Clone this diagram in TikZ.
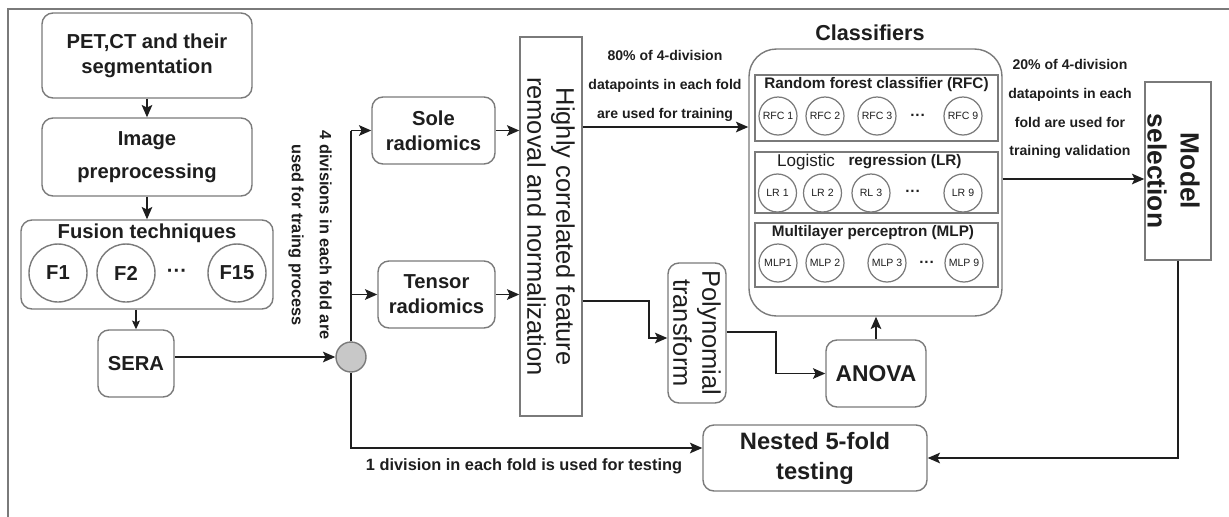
\documentclass[tikz,border=0pt]{standalone}
\usepackage{fontspec}
\setmainfont{Liberation Sans}
\usetikzlibrary{arrows.meta}

\definecolor{ink}{HTML}{1E1E1E}
\definecolor{edge}{HTML}{7A7A7A}
\definecolor{knob}{HTML}{C8C8C8}

\newcommand\labfnt{\bfseries\fontsize{11.5}{14.2}\selectfont}
\newcommand\tallfnt{\fontsize{14.5}{16.6}\selectfont}
\newcommand\headfnt{\bfseries\fontsize{12.3}{14}\selectfont}
\newcommand\rowfnt{\bfseries\fontsize{8.7}{10}\selectfont}
\newcommand\notefnt{\bfseries\fontsize{8}{16.4}\selectfont}
\newcommand\sidefnt{\bfseries\fontsize{9.3}{15.9}\selectfont}
\newcommand\unitfnt{\fontsize{6}{7}\selectfont}

\tikzset{
  rbox/.style={draw=edge, line width=0.8pt, rounded corners=0.22cm, align=center, text=ink, inner sep=0pt},
  sbox/.style={draw=edge, line width=0.8pt, inner sep=0pt},
  flow/.style={draw=ink, line width=1.1pt, -{Stealth[length=7pt,width=6pt,inset=1.5pt]}},
  fball/.style={circle, draw=edge, line width=0.8pt, minimum size=1.16cm, inner sep=0pt, text=ink, font=\labfnt},
  unit/.style={circle, draw=edge, line width=0.7pt, minimum size=0.76cm, inner sep=0pt, text=ink, font=\unitfnt},
  note/.style={text=ink, align=center, inner sep=0pt},
}

\begin{document}
\begin{tikzpicture}
    \useasboundingbox (0,0) rectangle (24.58,-10.32);
    % outer frame
    \draw[edge, line width=0.8pt] (0.16,-10.5) -- (0.16,-0.18) -- (24.8,-0.18);

    % input side
    \node[rbox, minimum width=4.2cm, minimum height=1.7cm, font=\labfnt] (pet) at (2.94,-1.11) {PET,CT and their\\segmentation};
    \node[rbox, minimum width=4.2cm, minimum height=1.56cm, font=\bfseries\fontsize{11.5}{18.7}\selectfont] (prep) at (2.94,-3.14) {Image\\preprocessing};
    \node[rbox, minimum width=5.04cm, minimum height=1.78cm] (fusion) at (2.94,-5.29) {};
    \node[note, font=\labfnt] (fusiontitle) at (2.94,-4.66) {Fusion techniques};
    \node[fball] (f1) at (1.16,-5.46) {F1};
    \node[fball] (f2) at (2.52,-5.46) {F2};
    \node[note, font=\labfnt] (fdots) at (3.54,-5.46) {···};
    \node[fball] (f15) at (4.74,-5.46) {F15};
    \node[rbox, minimum width=1.52cm, minimum height=1.34cm, font=\labfnt] (sera) at (2.72,-7.27) {SERA};

    \draw[flow] (pet) -- (prep);
    \draw[flow] (prep) -- (fusion);
    \draw[draw=ink, line width=0.6pt, -{Stealth[length=5pt,width=4.5pt,inset=1pt]}] (fusion.south -| sera.north) -- (sera.north);

    % split point
    \node[circle, draw=edge, fill=knob, line width=0.8pt, minimum size=0.6cm, inner sep=0pt] (split) at (7.02,-7.14) {};
    \draw[flow] (sera.east |- split) -- (split.west);
    \node[note, font=\sidefnt, rotate=-90] (traintag) at (6.2,-4.7) {4 divisions in each fold are\\used for traing process};

    % radiomics
    \node[rbox, minimum width=2.46cm, minimum height=1.34cm, font=\labfnt] (sole) at (8.67,-2.61) {Sole\\radiomics};
    \node[rbox, minimum width=2.34cm, minimum height=1.34cm, font=\labfnt] (tensor) at (8.73,-5.89) {Tensor\\radiomics};
    \draw[draw=ink, line width=1.1pt] (split.north) -- (split |- sole);
    \draw[flow] (split |- sole) -- (sole.west);
    \draw[flow] (split |- tensor) -- (tensor.west);

    % feature removal
    \node[sbox, minimum width=1.24cm, minimum height=7.58cm] (highly) at (11.02,-4.53) {};
    \node[note, font=\tallfnt, rotate=-90] (highlytext) at (highly) {Highly correlated feature\\removal and normalization};
    \draw[flow] (sole.east) -- (sole.east -| highly.west);
    \draw[flow] (tensor.east) -- (tensor.east -| highly.west);

    % classifiers
    \node[rbox, rounded corners=0.55cm, minimum width=5.06cm, minimum height=5.34cm] (cls) at (17.51,-3.65) {};
    \node[note, font=\headfnt] (clstitle) at (17.4,-0.66) {Classifiers};

    \node[sbox, minimum width=4.86cm, minimum height=1.32cm] (rfcrow) at (17.53,-2.16) {};
    \node[note, font=\rowfnt] (rfctitle) at (17.53,-1.70) {Random forest classifier (RFC)};
    \node[unit] (rfc1) at (15.56,-2.32) {RFC 1};
    \node[unit] (rfc2) at (16.50,-2.32) {RFC 2};
    \node[unit] (rfc3) at (17.54,-2.32) {RFC 3};
    \node[note, font=\rowfnt] (rfcdots) at (18.36,-2.34) {···};
    \node[unit] (rfc9) at (19.26,-2.32) {RFC 9};

    \node[sbox, minimum width=4.86cm, minimum height=1.22cm] (lrrow) at (17.53,-3.65) {};
    \node[note, font=\fontsize{9.7}{11}\selectfont] (lrtitlea) at (16.12,-3.24) {Logistic};
    \node[note, font=\rowfnt] (lrtitleb) at (18.10,-3.24) {regression (LR)};
    \node[unit] (lr1) at (15.55,-3.86) {LR 1};
    \node[unit] (lr2) at (16.45,-3.86) {LR 2};
    \node[unit] (lr3) at (17.42,-3.86) {RL 3};
    \node[note, font=\rowfnt] (lrdots) at (18.26,-3.86) {···};
    \node[unit] (lr9) at (19.26,-3.86) {LR 9};

    \node[sbox, minimum width=4.86cm, minimum height=1.28cm] (mlprow) at (17.53,-5.10) {};
    \node[note, font=\rowfnt] (mlptitle) at (17.46,-4.66) {Multilayer perceptron (MLP)};
    \node[unit] (mlp1) at (15.56,-5.26) {MLP1};
    \node[unit] (mlp2) at (16.50,-5.26) {MLP 2};
    \node[unit] (mlp3) at (17.74,-5.26) {MLP 3};
    \node[note, font=\rowfnt] (mlpdots) at (18.54,-5.28) {···};
    \node[unit] (mlp9) at (19.28,-5.26) {MLP 9};

    % training split
    \node[note, font=\notefnt] (traintext) at (13.3,-1.72) {80\% of 4-division\\datapoints in each fold\\are used for training};
    \draw[flow] (highly.east |- 0,-2.54) -- (cls.west |- 0,-2.54);

    % polynomial and anova
    \node[rbox, minimum width=1.16cm, minimum height=2.8cm] (poly) at (13.94,-6.66) {};
    \node[note, font=\tallfnt, rotate=-90] (polytext) at (poly) {Polynomial\\transform};
    \node[rbox, minimum width=2.0cm, minimum height=1.34cm, font=\bfseries\fontsize{13}{15}\selectfont] (anova) at (17.52,-7.47) {ANOVA};
    \draw[flow] (highly.east |- 0,-6.02) -- (12.98,-6.02) |- (poly.west |- 0,-6.76);
    \draw[flow] (poly.east |- 0,-6.64) -- (15.52,-6.64) |- (anova.west);
    \draw[flow] (anova.north) -- (anova.north |- cls.south);

    % model selection
    \node[sbox, minimum width=1.32cm, minimum height=3.56cm] (modelsel) at (23.56,-3.42) {};
    \node[note, font=\bfseries\fontsize{15}{18.7}\selectfont, rotate=-90] (modeltext) at (23.47,-3.42) {Model\\selection};
    \node[note, font=\notefnt] (validtext) at (21.4,-2.18) {20\% of 4-division\\datapoints in each\\fold are used for\\training validation};
    \draw[flow] (cls.east |- 0,-3.58) -- (modelsel.west |- 0,-3.58);

    % testing
    \node[rbox, minimum width=4.48cm, minimum height=1.32cm, font=\bfseries\fontsize{13.5}{17}\selectfont] (nested) at (16.3,-9.16) {Nested 5-fold\\testing};
    \coordinate (low) at (7.02,-8.96);
    \draw[flow] (split.south) -- (low) -- (low -| nested.west);
    \node[note, font=\sidefnt] (testtext) at (10.48,-9.32) {1 division in each fold is used for testing};
    \draw[flow] (modelsel.south) -- (modelsel.south |- nested) -- (nested.east);
\end{tikzpicture}
\end{document}
